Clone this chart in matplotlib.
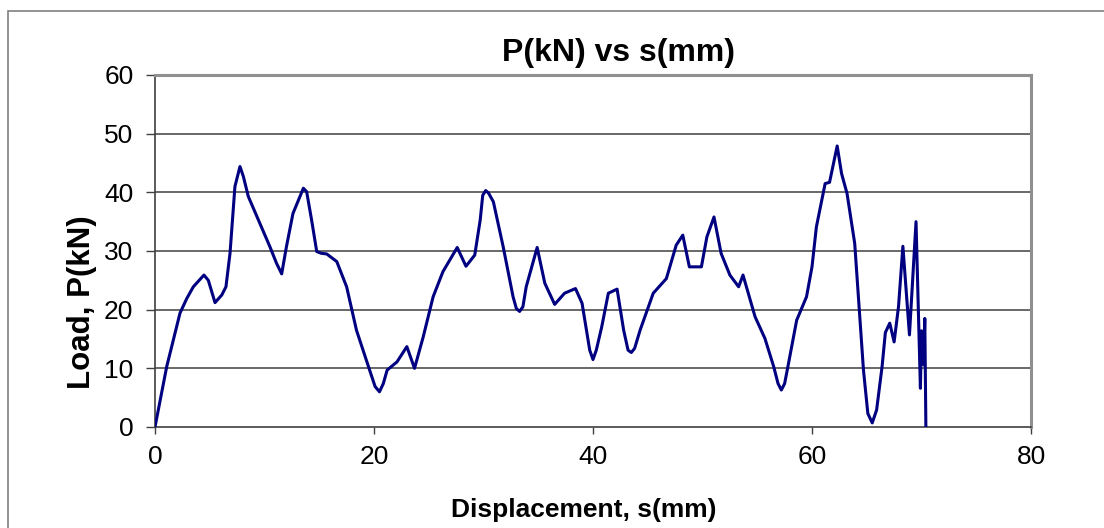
import matplotlib
matplotlib.use("Agg")
import matplotlib.pyplot as plt
from matplotlib.patches import Rectangle

plt.rcParams['font.family'] = ['Liberation Sans', 'DejaVu Sans']

# Load-displacement record
displacement_mm = [
    0.0, 1.07, 1.67, 2.28, 2.9, 3.5, 4.47, 4.87, 5.48, 6.1, 6.48, 6.85, 7.3,
    7.76, 8.07, 8.52, 10.5, 11.1, 11.57, 12.0, 12.6, 13.55, 13.85, 14.3,
    14.77, 15.2, 15.68, 16.6, 17.5, 18.4, 19.6, 20.1, 20.5, 20.85, 21.2,
    22.1, 23.0, 23.7, 24.5, 25.4, 26.3, 27.6, 28.4, 29.2, 29.7, 29.93, 30.2,
    30.45, 30.9, 31.8, 32.7, 33.0, 33.3, 33.6, 33.9, 34.9, 35.6, 36.5, 37.4,
    38.4, 39.0, 39.7, 40.0, 40.3, 40.8, 41.4, 42.2, 42.8, 43.2, 43.5, 43.8,
    44.3, 45.5, 46.7, 47.6, 48.2, 48.8, 49.3, 49.9, 50.4, 51.05, 51.7, 52.5,
    53.3, 53.7, 54.8, 55.7, 56.5, 56.9, 57.2, 57.5, 57.8, 58.6, 59.5, 60.0,
    60.4, 61.2, 61.6, 62.3, 62.7, 63.2, 63.9, 64.3, 64.7, 65.1, 65.5, 65.9,
    66.4, 66.7, 67.1, 67.5, 67.9, 68.3, 68.9, 69.5, 69.9, 70.0, 70.2, 70.3,
    70.4,
]
load_kN = [
    0.0, 10.3, 14.8, 19.4, 21.9, 23.9, 25.9, 25.0, 21.2, 22.5, 23.9, 29.6, 41.0,
    44.4, 42.7, 39.3, 30.7, 27.9, 26.1, 30.7, 36.4, 40.7, 40.1, 35.3,
    29.9, 29.6, 29.5, 28.2, 23.9, 16.5, 9.7, 6.9, 6.0, 7.4, 9.7,
    11.1, 13.7, 10.0, 15.4, 22.2, 26.5, 30.6, 27.4, 29.3, 35.3, 39.5, 40.3,
    39.9, 38.4, 30.7, 22.2, 20.2, 19.7, 20.5, 23.9, 30.6, 24.5, 20.9, 22.8,
    23.6, 21.1, 13.1, 11.5, 13.1, 17.1, 22.8, 23.5, 16.5, 13.1, 12.7, 13.4,
    16.5, 22.8, 25.3, 31.0, 32.7, 27.3, 27.3, 27.3, 32.4, 35.8, 29.6, 25.9,
    23.9, 25.9, 18.8, 15.1, 10.3, 7.4, 6.3, 7.4, 10.3, 18.2, 22.2, 27.3,
    34.1, 41.5, 41.7, 47.9, 43.2, 39.8, 31.3, 20.5, 9.7, 2.3, 0.7, 2.9,
    10.3, 16.1, 17.7, 14.5, 20.5, 30.8, 15.7, 35.0, 6.6, 16.4, 10.6, 18.5,
    0.0,
]

x_ticks = [0, 20, 40, 60, 80]
y_ticks = [0, 10, 20, 30, 40, 50, 60]

fig = plt.figure(figsize=(11.04, 5.28), dpi=100)
W, H = 1104, 528
left, right, top, bottom = 155, 1031, 75, 427
ax = fig.add_axes([left / W, 1 - bottom / H, (right - left) / W, (bottom - top) / H])

# outer chart frame
fig.patches.append(Rectangle((8 / W, -0.05), 1.2, (528 - 11) / H + 0.05,
                             transform=fig.transFigure, fill=False,
                             edgecolor='#808080', linewidth=1.2))

ax.plot(displacement_mm, load_kN, color='#000080', linewidth=2.2,
        solid_joinstyle='round', zorder=3)

ax.set_xlim(0, 80)
ax.set_ylim(0, 60)
ax.set_xticks(x_ticks)
ax.set_yticks(y_ticks)
ax.tick_params(axis='both', direction='out', width=1.0,
               color='#404040', labelsize=19)
ax.tick_params(axis='x', length=5, pad=8)
ax.tick_params(axis='y', length=6.5, pad=9)

for yv in y_ticks[1:-1]:
    ax.axhline(yv, color='#404040', linewidth=1.1, zorder=1)

ax.spines['left'].set_color('#404040')
ax.spines['bottom'].set_color('#404040')
ax.spines['top'].set_color('#909090')
ax.spines['right'].set_color('#909090')
ax.spines['top'].set_linewidth(2.2)
ax.spines['right'].set_linewidth(2.2)
ax.spines['left'].set_linewidth(1.2)
ax.spines['bottom'].set_linewidth(1.2)

fig.text(618 / W, 1 - 53 / H, 'P(kN) vs s(mm)', fontsize=23, fontweight='bold',
         ha='center', va='center')
fig.text(584 / W, 1 - 510 / H, 'Displacement, s(mm)', fontsize=19,
         fontweight='bold', ha='center', va='center')
fig.text(82 / W, 1 - 302 / H, 'Load, P(kN)', fontsize=22.5, fontweight='bold',
         rotation=90, ha='center', va='center')

fig.savefig('out.png', dpi=100)
